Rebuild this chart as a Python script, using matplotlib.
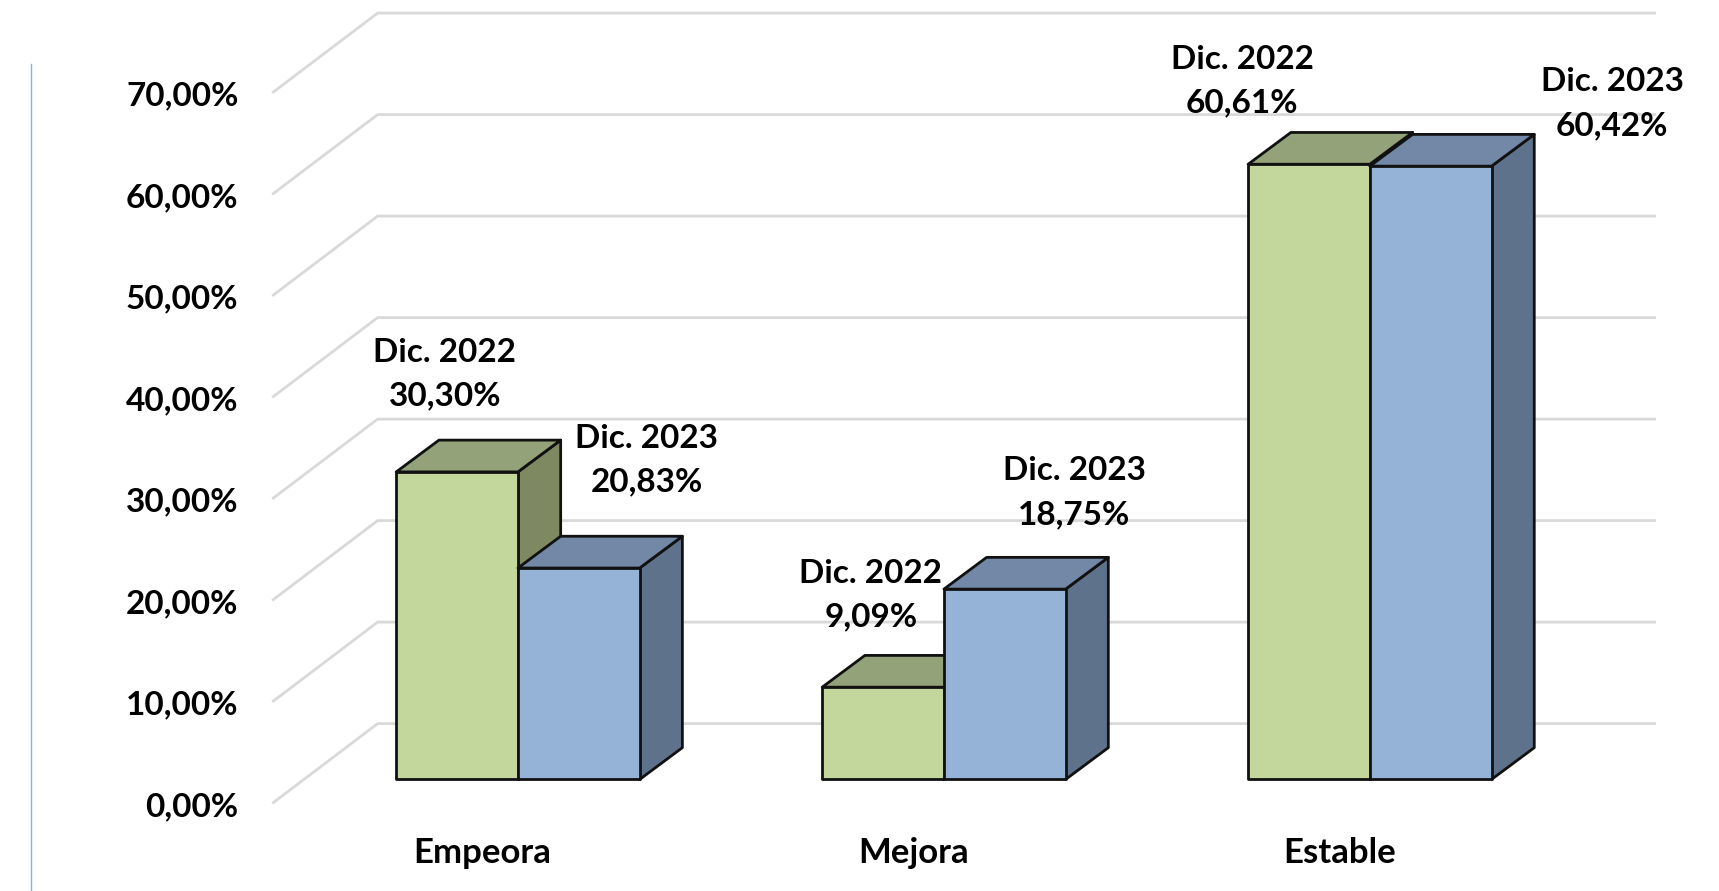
import matplotlib
matplotlib.use('Agg')
import matplotlib.pyplot as plt
from matplotlib.patches import Polygon
from matplotlib.lines import Line2D

categories = ['Empeora', 'Mejora', 'Estable']
dic_2022 = [30.30, 9.09, 60.61]
dic_2023 = [20.83, 18.75, 60.42]
y_ticks = [0, 10, 20, 30, 40, 50, 60, 70]
y_tick_labels = ['0,00%', '10,00%', '20,00%', '30,00%', '40,00%', '50,00%', '60,00%', '70,00%']
label_2022 = ['30,30%', '9,09%', '60,61%']
label_2023 = ['20,83%', '18,75%', '60,42%']

# label offsets from each bar's own left edge / top, bar widths and percent
off_2022 = [(0.40, 9.6), (0.40, 9.07), (-0.05, 8.2)]
off_2023 = [(1.06, 10.6), (1.07, 9.5), (1.99, 6.16)]
cat_off = [0.71, 0.75, 0.75]

plt.rcParams['font.family'] = ['Lato', 'DejaVu Sans']
plt.rcParams['font.weight'] = 'bold'

GREEN = ('#C3D69B', '#93A278', '#7E8962')
BLUE = ('#95B3D7', '#7288A6', '#5F728C')
GRID = '#D9D9D9'
FS = 24

# oblique projection, x in bar widths, y in percent
depth_x, depth_y = 0.351, 3.13
step = 3.5
floor_x0, floor_y0 = -1.01, -2.28
wall_x0, wall_x1, wall_y0 = -0.153, 10.34, 5.5

fig = plt.figure(figsize=(17.19, 8.91), dpi=100)
ax = fig.add_axes([0, 0, 1, 1])
ax.set_xlim(-3.256, -3.256 + 14.125)
ax.set_ylim(-10.99, 76.79)
ax.axis('off')


def draw_bar(x, val, cols):
    front = [(x, 0), (x + 1, 0), (x + 1, val), (x, val)]
    top = [(x, val), (x + 1, val), (x + 1 + depth_x, val + depth_y), (x + depth_x, val + depth_y)]
    side = [(x + 1, 0), (x + 1 + depth_x, depth_y), (x + 1 + depth_x, val + depth_y), (x + 1, val)]
    for pts, c in zip([side, top, front], [cols[2], cols[1], cols[0]]):
        ax.add_patch(Polygon(pts, closed=True, facecolor=c, edgecolor='#111111', linewidth=2,
                             joinstyle='round', zorder=3))


for t, lab in zip(y_ticks, y_tick_labels):
    ax.plot([floor_x0, wall_x0, wall_x1], [t + floor_y0, t + wall_y0, t + wall_y0],
            color=GRID, linewidth=2, zorder=1)
    ax.text(-1.297, t - 2.38 - 0.3, lab, ha='right', va='center', fontsize=FS, color='black')

for i, cat in enumerate(categories):
    x = i * step
    draw_bar(x, dic_2022[i], GREEN)
    draw_bar(x + 1, dic_2023[i], BLUE)
    ax.text(x + off_2022[i][0], dic_2022[i] + off_2022[i][1], 'Dic. 2022\n' + label_2022[i],
            ha='center', va='center', fontsize=FS, color='black', linespacing=1.6, zorder=5)
    ax.text(x + 1 + off_2023[i][0], dic_2023[i] + off_2023[i][1], 'Dic. 2023\n' + label_2023[i],
            ha='center', va='center', fontsize=FS, color='black', linespacing=1.6, zorder=5)
    ax.text(x + cat_off[i], -7.2, cat, ha='center', va='center', fontsize=25, color='black')

# thin blue rule on the left of the slide
fig.add_artist(Line2D([31 / 1719, 31 / 1719], [0, 1 - 64 / 891], color='#8EB4E3', linewidth=1))

fig.savefig('out.png', dpi=100)
